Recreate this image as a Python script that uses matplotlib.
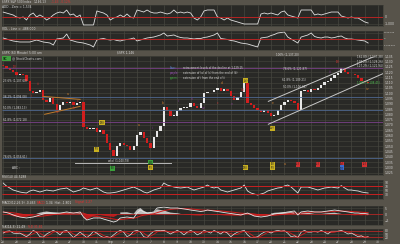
import matplotlib
matplotlib.use("Agg")
import matplotlib.pyplot as plt
import numpy as np

# four samples per trading day
close = [1126, 1124, 1121.5, 1119.6, 1117, 1117.7, 1116.8, 1112, 1101.7, 1100,
         1100.8, 1102.7, 1093.3, 1091.4, 1095.2, 1089.5, 1084, 1088.6, 1091.4, 1090.5,
         1091.4, 1088.6, 1090.5, 1091.4, 1068, 1066, 1066, 1067, 1063, 1065,
         1061.4, 1053, 1046.3, 1040.7, 1050, 1053, 1051, 1050, 1046.3, 1050,
         1060.4, 1063.2, 1057.6, 1053, 1048.2, 1058.5, 1064, 1069, 1086.7, 1083,
         1078.3, 1078.3, 1083, 1085.8, 1085.8, 1086.7, 1090.5, 1087.7, 1085.8, 1090.5,
         1099.9, 1100.8, 1100.8, 1102.7, 1104.6, 1101.7, 1103.6, 1101.7, 1097, 1093.3,
         1096.1, 1100.8, 1110, 1090.5, 1088.6, 1085.8, 1084, 1082, 1084, 1081,
         1078.3, 1079.2, 1084, 1088.6, 1091.4, 1093.3, 1092.4, 1090.5, 1084, 1101.7,
         1102.7, 1100.8, 1103.6, 1102.7, 1104.6, 1107.4, 1110.2, 1112, 1114, 1116.8,
         1118.7, 1123.4, 1119.6, 1117.7, 1117.7, 1116.8, 1114, 1112, 1110.2, 1109.3]

add_line = [700, 570, 430, 290, 0, -140, 0, -430, 290, 570,
            0, 290, 0, -430, -140, 290, 570, 710, 570, 1000,
            290, 430, 0, 290, -1140, -1140, -1140, -1140, 860, 710,
            570, 290, -430, -140, 0, 290, 0, 430, 0, -140,
            1000, 860, 710, 1000, 710, 570, 570, 710, 570, 430,
            570, 1000, 570, 710, 570, 710, 570, -140, -430, 0,
            860, 1000, 1000, 1000, 0, -140, -430, -140, -430, -570,
            -710, -860, -1000, -1000, -1000, -1000, -1000, 430, 570, 430,
            570, 430, 290, 710, 860, 290, 140, 0, -140, 1000,
            1000, 1000, 1000, 290, 430, 290, 430, 570, 710, 710,
            710, 140, 0, -140, 0, -140, -140, -430, -710, -860]

# millions
vol_line = [0.17, 0, -0.17, -0.33, -0.42, -0.5, -0.5, -0.5, -0.5, -0.33,
            -0.17, -0.33, -0.5, -0.58, -0.67, -1.0, 0, 0.08, 0.17, 0.83,
            -0.17, -0.33, -0.5, -0.58, -0.67, -0.83, -1.0, -1.33, -0.17, 0,
            0.08, -0.08, -0.17, -0.08, -0.25, -0.33, -0.17, -0.08, 0, 0.17,
            -0.33, -0.17, 0, 0.17, 0.25, 0.33, 0.5, 0.67, 1.0, 0.5,
            0.58, 0.67, 0.42, 0.25, 0.17, 0.17, 0.08, 0, 0.08, 0.08,
            0.25, 0.33, 0.5, 0.67, 1.0, 0.08, 0, -0.08, -0.25, -0.33,
            -0.5, -0.67, -0.75, -0.83, -1.0, -1.17, -1.33, 0.17, 0.25, 0.33,
            0.58, 0.75, 1.0, 1.08, 1.17, 0.33, 0, -0.33, -0.67, 0.33,
            0.5, 0.67, 1.0, 0.42, 0.25, 0.17, 0.33, 0.33, 0.17, 0.25,
            0.42, 0.5, 0.17, 0, 0, -0.08, -0.17, -0.25, -0.33, -0.67]

rsi = [85, 70, 60, 50, 45, 40, 37, 35, 45, 50,
       45, 40, 45, 50, 47, 45, 50, 55, 57, 60,
       50, 40, 45, 50, 60, 55, 50, 55, 60, 50,
       40, 35, 35, 37, 40, 45, 50, 55, 60, 65,
       57, 50, 40, 35, 42, 50, 55, 60, 85, 75,
       70, 65, 62, 60, 62, 65, 57, 50, 55, 60,
       65, 75, 65, 60, 65, 50, 45, 40, 45, 50,
       55, 60, 75, 45, 35, 30, 25, 30, 35, 45,
       50, 55, 60, 62, 70, 75, 65, 50, 35, 65,
       65, 65, 60, 55, 50, 55, 60, 62, 65, 62,
       60, 72, 60, 50, 50, 47, 45, 40, 37, 35]

macd = [1.7, 1.2, 0.4, -0.8, -1.7, -2.5, -2.9, -3.3, -2.9, -2.5,
        -1.7, -0.8, 0, 0.8, 0.8, 0.8, 0.8, 0.8, 1.2, 1.7,
        1.2, 0.8, 1.2, 1.7, -2.5, -5, -4.2, -3.3, -3.3, -3.3,
        -4.2, -5, -5.8, -6.7, -5.8, -3.3, -2.9, -2.5, -2.9, -3.3,
        0.8, 3.3, 1.7, 0.8, 1.2, 1.7, 5, 5.4, 5.8, 5.4,
        5, 5, 5, 4.6, 4.2, 3.8, 3.3, 2.9, 2.5, 2.1,
        2.5, 3.3, 2.9, 2.5, 2.1, 1.7, 1.2, 0.8, 0.4, 0,
        -0.4, -0.8, 0, 0.8, -0.4, -1.7, -2.1, -2.5, -2.1, -1.7,
        -0.8, 0, 0.4, 0.8, 1.2, 1.7, 2.1, 2.5, -0.8, 1.7,
        2.1, 2.5, 2.1, 1.7, 1.7, 1.7, 2.1, 2.5, 2.9, 3.3,
        2.9, 2.5, 2.1, 1.7, 1.2, 0.8, 0.8, 0.4, 0.4, 0]

signal = [1.5, 1.5, 1.3, 1.0, 0.6, 0.1, -0.4, -0.9, -1.4, -1.7,
          -1.9, -1.9, -1.7, -1.3, -0.9, -0.5, -0.2, 0.1, 0.3, 0.5,
          0.7, 0.8, 0.9, 1.0, 0.6, -0.3, -1.1, -1.7, -2.1, -2.4,
          -2.8, -3.2, -3.7, -4.2, -4.7, -4.6, -4.3, -4.0, -3.7, -3.5,
          -2.8, -1.7, -1.0, -0.6, -0.2, 0.2, 1.1, 2.0, 2.8, 3.4,
          3.8, 4.1, 4.3, 4.5, 4.5, 4.4, 4.2, 4.0, 3.7, 3.4,
          3.2, 3.2, 3.1, 3.0, 2.8, 2.6, 2.3, 2.0, 1.7, 1.4,
          1.0, 0.7, 0.5, 0.5, 0.3, 0.0, -0.4, -0.8, -1.0, -1.2,
          -1.2, -1.0, -0.8, -0.5, -0.2, 0.2, 0.5, 0.9, 0.6, 0.8,
          1.0, 1.3, 1.5, 1.6, 1.6, 1.6, 1.7, 1.8, 2.0, 2.2,
          2.4, 2.4, 2.4, 2.3, 2.1, 1.9, 1.7, 1.5, 1.3, 1.1]

sto_k = [58, 75, 79, 58, 54, 58, 42, 25, 50, 83,
         67, 25, 21, 50, 67, 83, 67, 42, 75, 83,
         50, 17, 42, 67, 42, 17, 42, 75, 58, 33,
         17, 25, 17, 42, 67, 83, 67, 25, 42, 75,
         83, 67, 25, 17, 50, 75, 83, 79, 83, 67,
         50, 67, 83, 67, 42, 67, 83, 67, 42, 58,
         83, 71, 58, 83, 67, 50, 75, 58, 25, 50,
         67, 75, 83, 42, 17, 17, 25, 50, 67, 75,
         58, 75, 83, 75, 79, 58, 25, 33, 17, 67,
         83, 67, 67, 75, 67, 83, 67, 50, 75, 75,
         75, 83, 67, 50, 58, 42, 25, 33, 17, 25]

sto_d = [60, 63, 70, 71, 64, 57, 51, 40, 39, 53,
         67, 58, 38, 32, 46, 67, 72, 64, 61, 67,
         69, 50, 36, 42, 50, 42, 34, 45, 58, 55,
         36, 25, 20, 28, 45, 64, 72, 58, 45, 47,
         67, 75, 58, 36, 31, 47, 69, 79, 82, 76,
         67, 61, 67, 72, 64, 59, 64, 72, 64, 56,
         61, 71, 71, 71, 69, 67, 64, 61, 53, 44,
         47, 64, 75, 67, 47, 25, 20, 31, 47, 64,
         67, 69, 72, 79, 79, 71, 54, 39, 25, 39,
         56, 72, 72, 70, 70, 75, 72, 67, 64, 67,
         75, 78, 75, 67, 58, 50, 42, 33, 25, 25]

day_labels = ["20", "23", "24", "25", "26", "27", "30", "31", "Sep", "2",
              "3", "7", "8", "9", "10", "13", "14", "15", "16", "17",
              "20", "21", "22", "23", "24", "27", "28", "29", "30"]

price_ticks = list(range(1025, 1136, 5))

# horizontal fibonacci levels: (price, colour)
fib_levels = [(1123.4, "#7a4088"), (1072.6, "#7a4088"),
              (1096.1, "#4f6890"), (1083.9, "#4f6890"), (1038.8, "#4f6890")]

# trend lines: (day0, price0, day1, price1, colour)
trend_lines = [(19.8, 1092.3, 28.4, 1138.4, "#c8c8c8"),
               (19.8, 1070.7, 28.4, 1118.7, "#c8c8c8"),
               (3.0, 1097.0, 5.75, 1094.2, "#c07a2a"),
               (3.1, 1080.1, 5.75, 1087.6, "#c07a2a"),
               (5.4, 1034.1, 12.5, 1034.1, "#b8b8b8")]

# wave labels: (day, price, text, colour, boxed)
wave_labels = [(0.9, 1125, "(2)", "#d03030", False), (1.7, 1116, "i", "#d03030", False),
               (2.1, 1097, "ii", "#d03030", False), (2.6, 1109, "iii", "#d03030", False),
               (4.0, 1082, "iv", "#d03030", False), (4.8, 1099, "a", "#d08030", False),
               (5.3, 1086, "b", "#d03030", False), (5.6, 1093, "c", "#d03030", False),
               (7.4, 1072, "(W)", "#c8b020", True), (7.0, 1047, "(Y)", "#c8b020", True),
               (8.2, 1029, "(X)", "#3aa03a", True), (11.0, 1035, "[B]", "#3aa03a", True),
               (11.0, 1029.5, "(Y)", "#c8b020", True), (10.1, 1070, "a", "#d08030", False),
               (11.1, 1067, "i", "#8a3d9c", False), (11.9, 1091, "b", "#d08030", False),
               (13.1, 1093, "ii", "#8a3d9c", False), (14.1, 1095, "iii", "#8a3d9c", False),
               (14.9, 1086, "iv", "#8a3d9c", False), (16.0, 1091, "c", "#d03030", False),
               (16.3, 1110, "d", "#d08030", False), (17.1, 1090, "v", "#8a3d9c", False),
               (17.9, 1103, "(a)", "#d03030", False), (18.1, 1112, "(iii)", "#c8b020", True),
               (20.1, 1091, "e", "#d08030", False), (20.1, 1067, "(iv)", "#c8b020", True),
               (24.4, 1120, "iii", "#8a3d9c", False), (25.0, 1129, "(3)", "#d03030", False),
               (27.2, 1104, "iv", "#d08030", False),
               (18.1, 1029.5, "(W)", "#c8b020", True), (20.1, 1033, "(X)", "#c8b020", True),
               (20.1, 1029.5, "(Y)", "#c8b020", True), (21.0, 1033, "a", "#d08030", False),
               (22.0, 1033, "(c)", "#d03030", True), (23.5, 1033, "(c)", "#d03030", True),
               (25.3, 1033, "(b)", "#d03030", True), (27.0, 1033, "(c)", "#d03030", True),
               (25.3, 1029.5, "[2]", "#3a6ad0", True)]

fib_left = [(81, "23.6% (1,107.60)"), (97, "38.2% (1,094.08)"), (108, "50.0% (1,083.13)"),
            (120, "61.8% (1,072.18)"), (157, "78.6% (1,056.61)")]
fib_right = [(276, 55, "100% (1,137.20)"), (283, 69, "78.6% (1,121.87)"),
             (282, 80, "61.8% (1,109.21)"), (283, 87, "50.0% (1,100.68)"),
             (357, 57, "161.8% (1,137.38)"), (357, 62, "138.2% (1,128.26)"),
             (357, 66, "127.2% (1,121.94)")]

W, H = 400, 244
BG = "#57534a"
PANEL = "#292926"
GRID = "#46463f"
TXT = "#d8d8d8"
RED = "#c82020"
FS = 2.2

fig = plt.figure(figsize=(W / 100, H / 100), dpi=100, facecolor=BG)

n = len(close)
x = np.arange(n) / 4.0
xlim = (-0.08, 28.36)


def panel(top, bottom):
    ax = fig.add_axes([2 / W, 1 - bottom / H, 381 / W, (bottom - top) / H])
    ax.set_facecolor(PANEL)
    for s in ax.spines.values():
        s.set_color("#3c3c36")
        s.set_linewidth(0.4)
    ax.set_xlim(*xlim)
    ax.set_xticks(range(len(day_labels)))
    ax.xaxis.grid(True, color=GRID, lw=0.5)
    ax.yaxis.grid(True, color=GRID, lw=0.4)
    ax.set_axisbelow(True)
    ax.yaxis.tick_right()
    ax.tick_params(length=0, labelsize=FS, colors=TXT, pad=1.5)
    ax.tick_params(axis="x", labelbottom=False)
    return ax


def ftext(px, py, s, color=TXT, size=FS, **kw):
    fig.text(px / W, 1 - py / H, s, color=color, fontsize=size, va="center", **kw)


# panel A
ax_a = panel(5, 26)
ax_a.plot(x, add_line, color="#e0e0e0", lw=0.6)
ax_a.axhline(0, color=RED, lw=0.6)
ax_a.set_ylim(-1286, 1714)
ax_a.set_yticks([0, -1000])
ax_a.set_yticklabels(["0", "-1,000"])

# panel B
ax_b = panel(31, 50)
ax_b.plot(x, vol_line, color="#e0e0e0", lw=0.6)
ax_b.axhline(0, color=RED, lw=0.6)
ax_b.set_ylim(-1.833, 1.333)
ax_b.set_yticks([1, 0, -1])
ax_b.set_yticklabels(["1,000,000", "0", "-1,000,000"])
ax_b.tick_params(axis="y", labelsize=1.6, pad=0.8)

# main price panel
ax = panel(55.5, 175)
ax.set_ylim(1022.8, 1135.6)
ax.set_yticks(price_ticks)
ax.set_yticklabels(["{:,}".format(p) for p in price_ticks])
for lvl, col in fib_levels:
    ax.axhline(lvl, color=col, lw=0.6)
for d0, p0, d1, p1, col in trend_lines:
    ax.plot([d0, d1], [p0, p1], color=col, lw=0.7)

c = np.array(close, dtype=float)
o = np.r_[c[0] + 1.0, c[:-1]]
lo = np.minimum(o, c)
hgt = np.maximum(np.abs(c - o), 0.8)
cols = np.where(c >= o, "#e6e6e6", "#d21e1e")
ax.bar(x, hgt, bottom=lo, width=0.17, color=cols, linewidth=0)

for d, p, s, col, boxed in wave_labels:
    if boxed:
        ax.text(d, p, s, fontsize=2.0, color="#202020", ha="center", va="center",
                bbox=dict(boxstyle="square,pad=0.15", fc=col, ec="none"))
    else:
        ax.text(d, p, s, fontsize=2.2, color=col, ha="center", va="center")

ax.text(0.7, 1029.5, "ABC :", fontsize=FS, color=TXT, va="center")
ax.text(7.8, 1036.2, "w(x) (1,040.78)", fontsize=2.0, color=TXT, va="center")

# RSI
ax_r = panel(179.5, 199)
ax_r.plot(x, rsi, color="#e0e0e0", lw=0.6)
ax_r.axhline(70, color=RED, lw=0.7)
ax_r.axhline(30, color=RED, lw=0.7)
ax_r.set_ylim(5, 102.5)
ax_r.set_yticks([90, 70, 50, 30])

# MACD
ax_m = panel(206, 224.5)
hist = np.array(macd) - np.array(signal)
ax_m.fill_between(x, 0, hist, where=hist >= 0, color="#cfcfcf", lw=0, alpha=0.9)
ax_m.fill_between(x, 0, hist, where=hist < 0, color="#c81c1c", lw=0, alpha=0.9)
ax_m.axhline(0, color=RED, lw=0.5)
ax_m.plot(x, signal, color="#d02020", lw=0.7)
ax_m.plot(x, macd, color="#e6e6e6", lw=0.6)
ax_m.set_ylim(-8.75, 6.67)
ax_m.set_yticks([5, 0, -5])

# stochastics
ax_s = panel(228.5, 239.5)
ax_s.plot(x, sto_d, color="#d02020", lw=0.6)
ax_s.plot(x, sto_k, color="#e0e0e0", lw=0.5)
ax_s.axhline(80, color=RED, lw=0.5)
ax_s.axhline(20, color=RED, lw=0.5)
ax_s.set_ylim(0, 100)
ax_s.set_yticks([80, 50, 20])
ax_s.tick_params(axis="x", labelbottom=True, pad=0.6, labelsize=2.2)
ax_s.set_xticklabels(day_labels)

# header and strip texts
ftext(2, 1.8, "$SPX S&P 500 Index", size=2.1)
ftext(34, 1.8, "1,146.13", size=2.1)
ftext(51, 1.8, "-1.43  -0.12%", color="#e03030", size=2.1)
ftext(2, 7.5, "ADD - Zero = 1,534")
ftext(2, 28.7, "VOL - Line = -488,000")
ftext(2, 52.8, "$SPX (60 Minute) 5:00 am")
ftext(117, 52.8, "$SPX 1,146")
ftext(2, 177.2, "RSI(14) 44.5288")
ftext(2, 202.5, "MACD(12,26,9) -0.463")
ftext(37, 202.5, "MACD", color="#e03030")
ftext(46, 202.5, "1.34  Hist -1.801")
ftext(75, 202.5, "Signal 1.27", color="#e03030")
ftext(2, 226.5, "%K(14,3) 21.49")
ftext(28, 226.5, "%D 31.81", color="#e03030")

# StockCharts logo
fig.patches.append(plt.Rectangle((2 / W, 1 - 61 / H), 9 / W, 5 / H, transform=fig.transFigure,
                                 fc="#3fa03f", ec="none"))
ftext(3, 58.5, "SC", color="#103010", size=2.4, weight="bold")
ftext(12, 58.5, "@ StockCharts.com")

# legend
for py, key, col, rest in [(68, "blue:", "#5a8ad8", "retracement levels of the decline at 1,129.15"),
                           (73, "purple:", "#a050c0", "extension of (a) of (c) from the end of (b)"),
                           (78, "green:", "#40b040", "extension of i from the end of ii")]:
    ftext(170, py, key, color=col, size=1.9)
    ftext(183, py, rest, size=1.9)

for py, s in fib_left:
    ftext(3, py, s, size=2.0)
for px, py, s in fib_right:
    ftext(px, py, s, size=2.0)
ftext(357, 83, "100% (1,108.45)", color="#50c050", size=2.0)

fig.savefig("out.png", dpi=100, facecolor=BG)
